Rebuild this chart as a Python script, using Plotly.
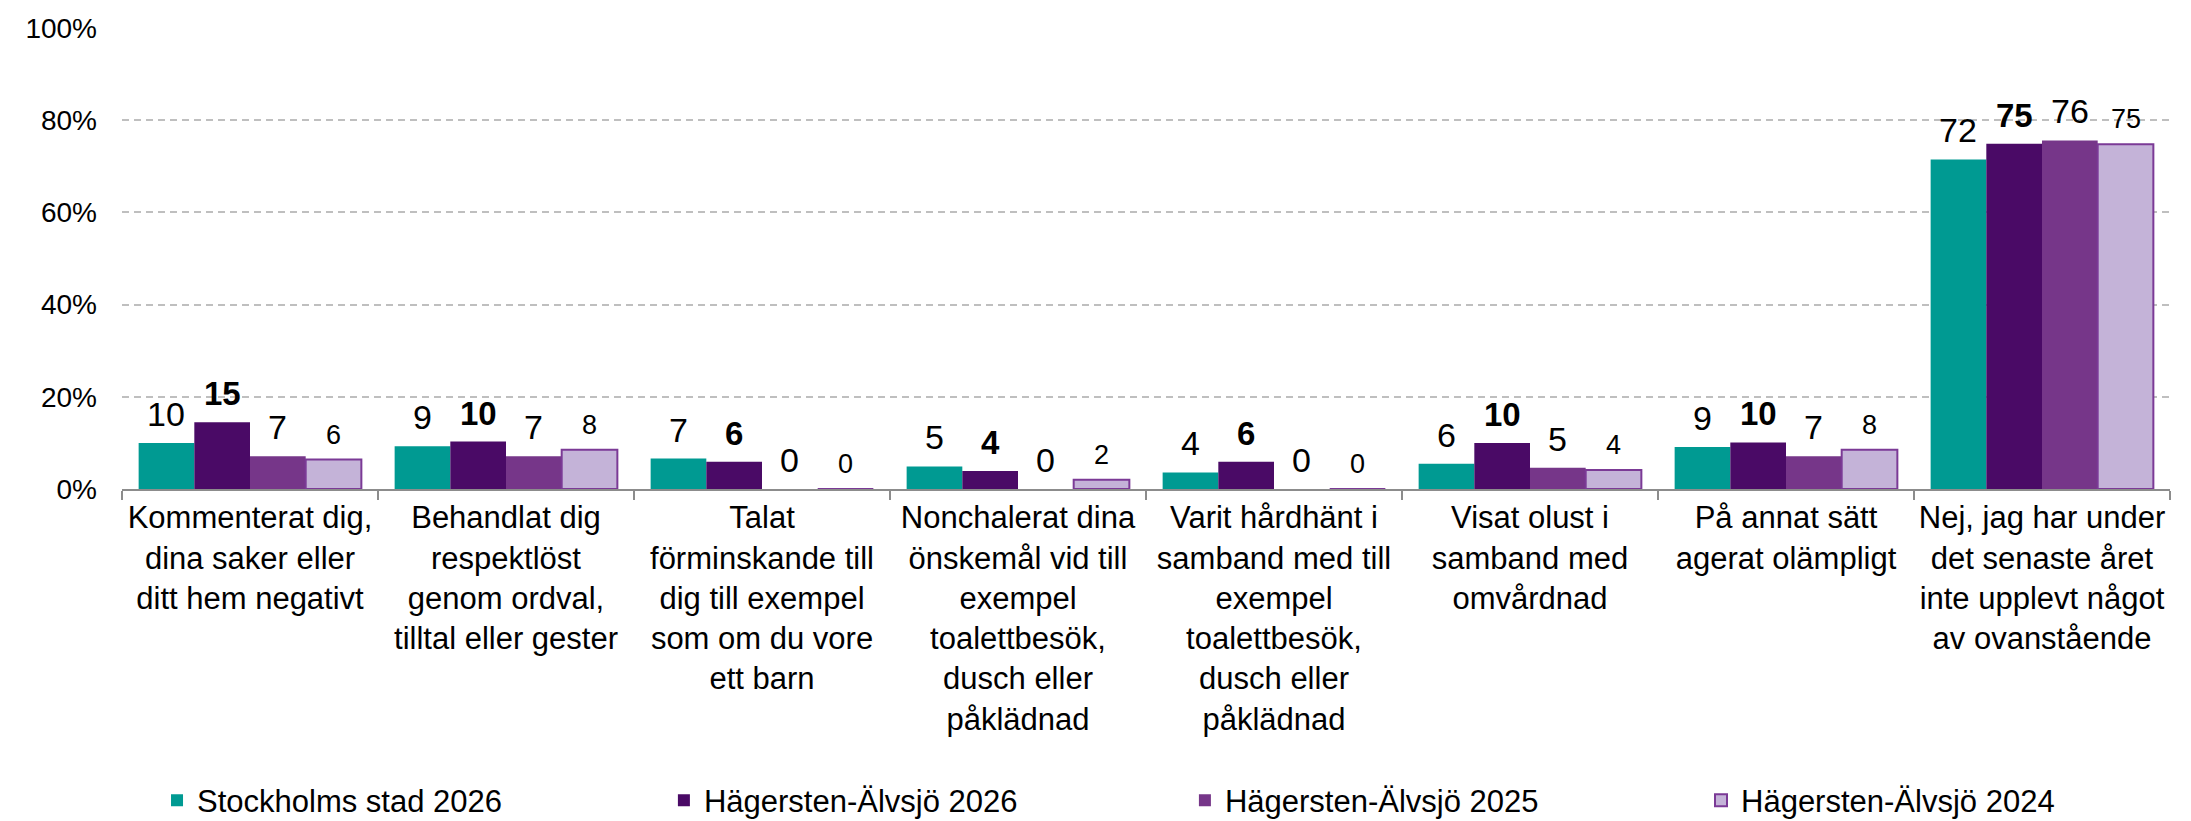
import plotly.graph_objects as go

categories = [
    "Kommenterat dig,<br>dina saker eller<br>ditt hem negativt",
    "Behandlat dig<br>respektlöst<br>genom ordval,<br>tilltal eller gester",
    "Talat<br>förminskande till<br>dig till exempel<br>som om du vore<br>ett barn",
    "Nonchalerat dina<br>önskemål vid till<br>exempel<br>toalettbesök,<br>dusch eller<br>påklädnad",
    "Varit hårdhänt i<br>samband med till<br>exempel<br>toalettbesök,<br>dusch eller<br>påklädnad",
    "Visat olust i<br>samband med<br>omvårdnad",
    "På annat sätt<br>agerat olämpligt",
    "Nej, jag har under<br>det senaste året<br>inte upplevt något<br>av ovanstående",
]

series_names = ["Stockholms stad 2026", "Hägersten-Älvsjö 2026",
                "Hägersten-Älvsjö 2025", "Hägersten-Älvsjö 2024"]

stockholm_2026 = [10.0, 9.3, 6.6, 4.9, 3.6, 5.5, 9.1, 71.5]
hagersten_2026 = [14.5, 10.3, 5.9, 3.9, 5.9, 10.0, 10.1, 74.9]
hagersten_2025 = [7.1, 7.1, 0, 0, 0, 4.6, 7.1, 75.6]
hagersten_2024 = [6.4, 8.5, 0, 2.0, 0, 4.1, 8.5, 74.8]

labels_stockholm_2026 = [10, 9, 7, 5, 4, 6, 9, 72]
labels_hagersten_2026 = [15, 10, 6, 4, 6, 10, 10, 75]
labels_hagersten_2025 = [7, 7, 0, 0, 0, 5, 7, 76]
labels_hagersten_2024 = [6, 8, 0, 2, 0, 4, 8, 75]

values = [stockholm_2026, hagersten_2026, hagersten_2025, hagersten_2024]
labels = [labels_stockholm_2026, labels_hagersten_2026,
          labels_hagersten_2025, labels_hagersten_2024]

fills = ["#009a92", "#4a0a66", "#763689", "#c4b3d8"]
outlines = ["#009a92", "#4a0a66", "#763689", "#7b3a96"]
label_sizes = [34, 33, 34, 27]
label_bold = [False, True, False, False]

# one single-item legend per series, spread along the bottom
legend_x = [0.0171, 0.2646, 0.5190, 0.7710]

FONT = "Arial, Liberation Sans, sans-serif"
BARGAP = 0.13

fig = go.Figure()
for i, name in enumerate(series_names):
    fig.add_trace(go.Bar(
        x=categories,
        y=values[i],
        name=name,
        legend="legend" if i == 0 else f"legend{i + 1}",
        marker=dict(color=fills[i],
                    line=dict(color=outlines[i], width=2 if i == 3 else 0)),
        hoverinfo="skip",
    ))

# value labels above each bar, placed on the bar's own group slot
slot = (1 - BARGAP) / len(series_names)
for i in range(len(series_names)):
    for j, v in enumerate(values[i]):
        txt = str(labels[i][j])
        if label_bold[i]:
            txt = f"<b>{txt}</b>"
        fig.add_annotation(
            x=j + (i - 1.5) * slot,
            y=v,
            xref="x",
            yref="y",
            text=txt,
            showarrow=False,
            yanchor="bottom",
            yshift=8,
            font=dict(family=FONT, size=label_sizes[i], color="#000000"),
        )

legends = {}
for i, lx in enumerate(legend_x):
    key = "legend" if i == 0 else f"legend{i + 1}"
    legends[key] = dict(
        orientation="h",
        x=lx,
        xanchor="left",
        y=-0.676,
        yanchor="middle",
        font=dict(size=31, family=FONT),
        itemclick=False,
        bgcolor="rgba(0,0,0,0)",
    )

fig.update_layout(
    width=2191,
    height=821,
    barmode="group",
    bargap=BARGAP,
    bargroupgap=0,
    plot_bgcolor="white",
    paper_bgcolor="white",
    font=dict(family=FONT, color="#000000"),
    margin=dict(l=114, r=29, t=20, b=340, autoexpand=False),
    showlegend=True,
    **legends,
)

fig.update_xaxes(
    type="category",
    tickangle=0,
    automargin=False,
    showline=True,
    linecolor="#8c8c8c",
    linewidth=2,
    ticks="outside",
    tickson="boundaries",
    ticklen=9,
    tickwidth=2,
    tickcolor="#8c8c8c",
    tickfont=dict(size=31, family=FONT),
    showgrid=False,
)

fig.update_yaxes(
    range=[0, 100],
    tick0=0,
    dtick=20,
    ticksuffix="%",
    automargin=False,
    showgrid=True,
    gridcolor="#bfbfbf",
    gridwidth=2,
    griddash="7px,5px",
    zeroline=False,
    showline=False,
    tickfont=dict(size=28, family=FONT),
    ticklabelstandoff=24,
)

fig.write_html("out.html")
